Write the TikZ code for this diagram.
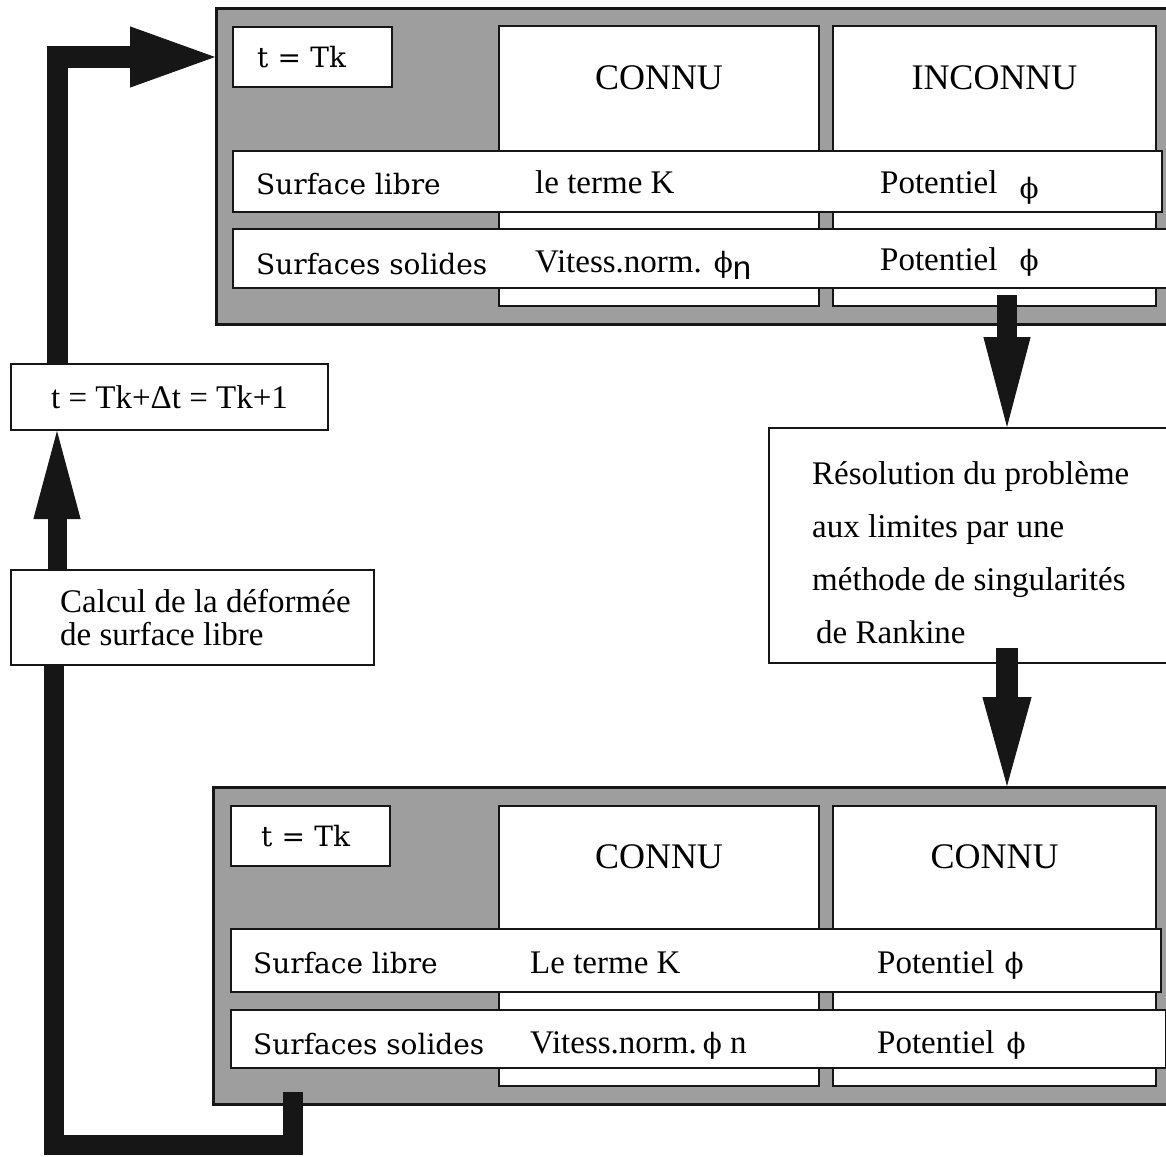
\documentclass[tikz,border=0pt]{standalone}
\usepackage{fontspec}
\setmainfont{Liberation Serif}
\newfontfamily\slabfont{DejaVu Serif}
\newfontfamily\subfont{Liberation Sans}
\usetikzlibrary{arrows.meta,positioning}
\definecolor{inkBlack}{HTML}{161616}
\definecolor{panelGray}{HTML}{9E9E9E}
\newcommand{\phisym}{{\slabfont\fontsize{28}{34}\selectfont ϕ}}
\tikzset{
  panelbox/.style={rectangle,draw=inkBlack,line width=3pt,fill=panelGray,
    anchor=north west,inner sep=0pt},
  cellbox/.style={rectangle,draw=inkBlack,line width=2pt,fill=white,
    anchor=north west,inner sep=0pt},
  timebox/.style={cellbox,minimum width=159pt,minimum height=60pt,align=left,
    font=\slabfont\fontsize{28}{34}\selectfont},
  colbox/.style={cellbox,minimum width=320pt,minimum height=280pt},
  headtext/.style={inner sep=0pt,font=\fontsize{36}{40}\selectfont},
  rowlabel/.style={inner sep=0pt,anchor=base west,
    font=\slabfont\fontsize{28}{34}\selectfont},
  celltext/.style={inner sep=0pt,anchor=base west,font=\fontsize{33}{40}\selectfont},
  plaintext/.style={inner sep=0pt,anchor=base west,align=left},
  fatarrow/.style={draw=inkBlack,line width=21pt,line join=miter}
}

\begin{document}
\begin{tikzpicture}[x=1pt,y=-1pt]
  \useasboundingbox (0,0) rectangle (1166,1156);
  \clip (0,0) rectangle (1166,1156);

  % etat a t = Tk
  \node[panelbox,minimum width=960pt,minimum height=316pt] (panA) at (215,7) {};
  \node[timebox,text width=111pt,inner xsep=24pt] (tkA) at (232,26) {t~=~Tk};
  \node[colbox] (colA1) at (498,25) {};
  \node[colbox,minimum width=323pt] (colA2) at (832,25) {};
  \node[headtext,below=40pt of colA1.north] (hdA1) {CONNU};
  \node[headtext,below=40pt of colA2.north] (hdA2) {INCONNU};
  \node[cellbox,minimum width=929pt,minimum height=61pt] (rowA1) at (232,150) {};
  \node[cellbox,minimum width=935pt,minimum height=59pt] (rowA2) at (232,228) {};
  \node[rowlabel] (slA) at (256,194) {Surface libre};
  \node[celltext] (kA) at (535,193) {le terme K};
  \node[celltext] (pA1) at (880,193) {Potentiel\hspace{22pt}\raisebox{-5pt}{\phisym}};
  \node[rowlabel] (ssA) at (256,274) {Surfaces solides};
  \node[celltext] (vA) at (535,272) {Vitess.norm.\hspace{12pt}\phisym\raisebox{-7pt}{\subfont n}};
  \node[celltext] (pA2) at (880,270) {Potentiel\hspace{22pt}\phisym};

  % etat apres resolution
  \node[panelbox,minimum width=963pt,minimum height=317pt] (panB) at (212,786) {};
  \node[timebox,text width=99pt,inner xsep=30pt] (tkB) at (230,805) {t~=~Tk};
  \node[colbox] (colB1) at (498,805) {};
  \node[colbox,minimum width=323pt] (colB2) at (832,805) {};
  \node[headtext,below=39pt of colB1.north] (hdB1) {CONNU};
  \node[headtext,below=39pt of colB2.north] (hdB2) {CONNU};
  \node[cellbox,minimum width=930pt,minimum height=63pt] (rowB1) at (230,928) {};
  \node[cellbox,minimum width=935pt,minimum height=58pt] (rowB2) at (230,1009) {};
  \node[rowlabel] (slB) at (253,973) {Surface libre};
  \node[celltext] (kB) at (530,973) {Le terme K};
  \node[celltext] (pB1) at (877,973) {Potentiel\hspace{10pt}\phisym};
  \node[rowlabel] (ssB) at (253,1054) {Surfaces solides};
  \node[celltext] (vB) at (530,1053) {Vitess.norm.\hspace{6pt}\phisym\ n};
  \node[celltext] (pB2) at (877,1053) {Potentiel\hspace{12pt}\phisym};

  % boites de gauche et de droite
  \node[cellbox,minimum width=317pt,minimum height=66pt,
    font=\fontsize{33}{40}\selectfont] (dt) at (10,363) {t = Tk+Δt = Tk+1};
  \node[cellbox,minimum width=363pt,minimum height=95pt] (calc) at (10,569) {};
  \node[plaintext,font=\fontsize{33}{33}\selectfont] (calcT) at (60,645)
    {Calcul de la déformée\\de surface libre};
  \node[cellbox,minimum width=420pt,minimum height=235pt] (res) at (768,427) {};
  \node[plaintext,font=\fontsize{33}{52.7}\selectfont] (resT) at (812,643)
    {Résolution du problème\\aux limites par une\\méthode de singularités\\\hspace{4pt}de Rankine};

  % fleches
  \coordinate (outA) at (1007,295);
  \coordinate (outR) at (1007,648);
  \coordinate (outB) at (293,1092);
  \draw[fatarrow,line width=20pt,-{Triangle[length=90pt,width=47pt,line width=1pt]}]
    (outA) -- (outA |- res.north);
  \draw[fatarrow,line width=22pt,-{Triangle[length=89pt,width=49pt,line width=1pt]}]
    (outR) -- (outR |- panB.north);
  \draw[fatarrow,line width=20pt] (outB) -- ++(0,53) -| ([xshift=44pt]calc.south west);
  \draw[fatarrow,line width=19pt,-{Triangle[length=88pt,width=47pt,line width=1pt]}]
    ([xshift=47pt]calc.north west) -- ([xshift=47pt]dt.south west);
  \draw[fatarrow,-{Triangle[length=85pt,width=61pt,line width=1pt]}]
    ([xshift=47pt]dt.north west) |- (panA.west |- tkA.west);
\end{tikzpicture}
\end{document}
